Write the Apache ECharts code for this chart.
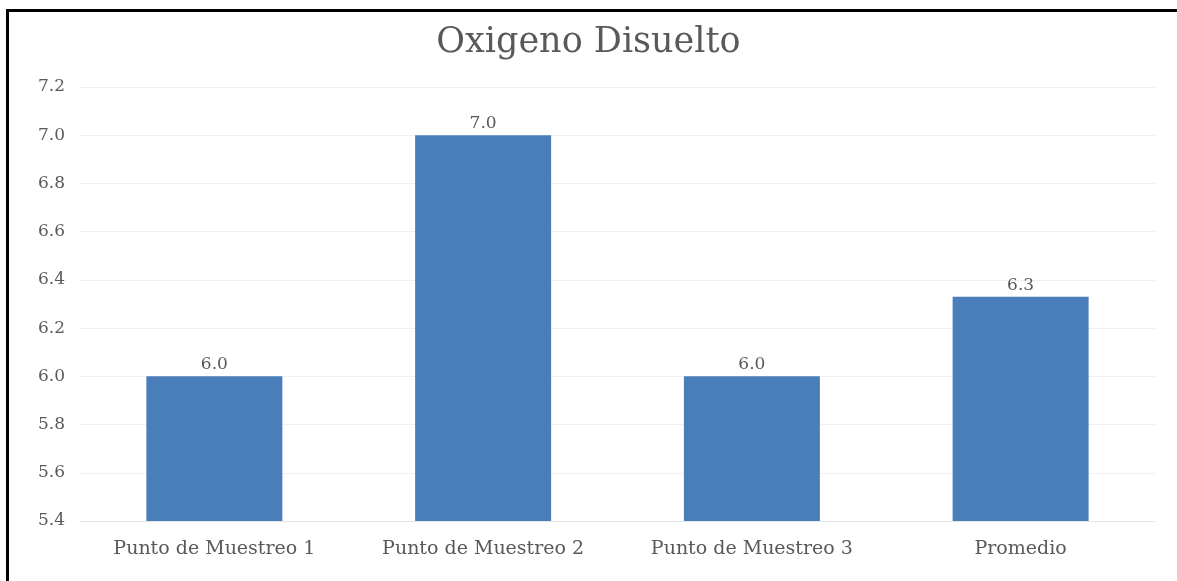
<!DOCTYPE html>
<html>
<head>
<meta charset="utf-8">
<script src="https://cdn.jsdelivr.net/npm/echarts@6/dist/echarts.min.js"></script>
<style>
  html, body { margin: 0; padding: 0; background: #fff; }
  #frame { position: absolute; left: 6px; top: 9px; right: -10px; bottom: -10px; border-top: 3px solid #000; border-left: 3px solid #000; }
  #chart { position: absolute; left: 0; top: 0; width: 1177px; height: 581px; }
</style>
</head>
<body>
<div id="frame"></div>
<div id="chart"></div>
<script>
var categories = ['Punto de Muestreo 1', 'Punto de Muestreo 2', 'Punto de Muestreo 3', 'Promedio'];
var values = [6.0, 7.0, 6.0, 6.33];
var yTicks = { min: 5.4, max: 7.2, step: 0.2 };

var textColor = '#595959';
var fontFam = '"DejaVu Serif", serif';

var myChart = echarts.init(document.getElementById('chart'));
myChart.setOption({
    animation: false,
    title: {
        text: 'Oxigeno Disuelto',
        left: 'center',
        top: 20,
        textStyle: { color: textColor, fontFamily: fontFam, fontSize: 35, fontWeight: 'normal' }
    },
    grid: { left: 80, right: 22, top: 87, bottom: 60 },
    xAxis: {
        type: 'category',
        data: categories,
        axisTick: { show: false },
        axisLine: { lineStyle: { color: '#e6e6e6' } },
        axisLabel: { color: textColor, fontFamily: fontFam, fontSize: 19, margin: 19 }
    },
    yAxis: {
        type: 'value',
        min: yTicks.min,
        max: yTicks.max,
        interval: yTicks.step,
        axisLine: { show: false },
        axisTick: { show: false },
        splitLine: { lineStyle: { color: '#f0f0f0' } },
        axisLabel: {
            color: textColor, fontFamily: fontFam, fontSize: 17, margin: 15,
            formatter: function (v) { return v.toFixed(1); }
        }
    },
    series: [{
        type: 'bar',
        data: values,
        barWidth: 136,
        itemStyle: { color: '#4a7ebb' },
        label: {
            show: true,
            position: 'top',
            distance: 3,
            color: textColor,
            fontFamily: fontFam,
            fontSize: 17,
            formatter: function (p) { return p.value.toFixed(1); }
        }
    }]
});
</script>
</body>
</html>
